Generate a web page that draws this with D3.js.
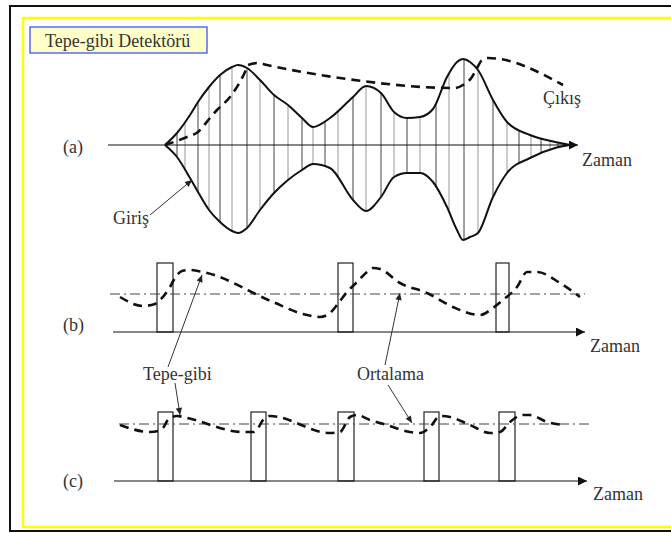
<!DOCTYPE html>
<html>
<head>
<meta charset="utf-8">
<script src="https://cdn.jsdelivr.net/npm/d3@7"></script>
<style>
html, body { margin: 0; padding: 0; background: #fff; overflow: hidden; }
svg { display: block; }
text { font-family: "Liberation Serif", "Times New Roman", serif; fill: #333; font-size: 18px; }
</style>
</head>
<body>
<svg id="chart" width="671" height="533"></svg>
<script>
// (a) input envelope, sampled in time units
var envTime  = [6.5, 7.7, 9.0, 9.8, 10.9, 12.0, 13.2, 13.8, 14.7, 16.0, 17.4, 18.8, 20.2, 21.3, 23.0, 25.3,
                26.6, 28.1, 29.4, 30.7, 32.0, 33.3, 34.7, 35.7, 36.3, 37.0, 37.8, 39.3, 40.7, 43.0, 45.5, 47.0];
var envUpper = [0, 12, 30, 43, 58, 70, 78, 80, 77, 65, 50, 40, 27, 18, 27, 48,
                59, 52, 33, 27, 28, 36, 68, 83, 86, 83, 75, 45, 23, 10, 3, 0];
var envLower = [0, 12, 33, 47, 65, 77, 86, 88, 83, 65, 48, 35, 25, 19, 23, 55,
                66, 52, 32, 28, 28, 37, 62, 85, 95, 92, 88, 52, 28, 13, 3, 0];
var carrierTime = [7.7, 8.5, 9.8, 10.9, 12.0, 13.2, 14.7, 16.0, 17.4, 18.8, 20.2, 21.3, 22.5, 23.8, 25.3, 26.6,
                   28.1, 29.4, 30.7, 32.0, 33.6, 34.9, 36.4, 37.8, 39.3, 40.7, 41.9, 43.1, 44.1, 45.0, 45.8, 46.4];
// (a) detector output
var outATime  = [6.5, 8.7, 9.8, 11.0, 11.7, 13.0, 13.5, 14.5, 14.8, 15.8, 16.7, 24.0, 35.5, 36.3, 37.2, 37.7, 38.2, 38.8, 46.3];
var outAValue = [0, 8, 13, 27, 35, 48, 55, 73, 80, 82, 80, 67, 57, 60, 68, 77, 85, 87, 60];

// (b) sparse peaks
var pulseB = [[5.7, 7.3], [23.8, 25.3], [39.6, 40.9]];
var meanB = 3.8;
var outBTime  = [2.0, 4.3, 5.5, 6.0, 7.0, 7.5, 8.2, 9.0, 10.3, 17.3, 20.3, 22.0, 23.0, 23.7, 24.7, 25.7, 26.7, 27.3, 28.0,
                 30.0, 32.7, 35.3, 38.0, 39.3, 40.3, 41.7, 42.7, 43.7, 46.0, 48.0];
var outBValue = [3.5, 2.6, 2.8, 3.2, 4.5, 5.4, 6.1, 6.2, 6.0, 3.0, 1.8, 1.5, 1.9, 2.7, 4.0, 5.0, 6.0, 6.4, 6.3,
                 4.9, 3.9, 2.5, 1.7, 2.4, 3.2, 4.5, 6.0, 6.0, 4.9, 3.5];

// (c) dense peaks
var pulseC = [[5.8, 7.3], [15.1, 16.6], [23.8, 25.4], [32.4, 33.9], [39.9, 41.5]];
var meanC = 5.7;
var outCTime  = [2.0, 5.0, 5.8, 6.3, 6.8, 7.7, 8.7, 14.3, 15.3, 15.8, 16.3, 17.0, 23.0, 24.0, 25.0, 25.7,
                 27.0, 28.7, 31.0, 32.0, 33.0, 34.0, 35.0, 37.0, 39.0, 40.0, 41.0, 42.3, 43.0, 44.7, 46.3];
var outCValue = [5.6, 4.9, 5.0, 5.3, 6.1, 6.5, 6.3, 4.9, 4.9, 5.3, 6.1, 6.5, 4.8, 4.9, 6.4, 6.6,
                 6.1, 5.6, 4.9, 4.8, 5.4, 6.5, 6.4, 5.6, 4.8, 4.9, 5.9, 6.6, 6.6, 5.9, 5.6];
var pulseTop = 6.9;

var svg = d3.select("#chart");

var x  = d3.scaleLinear().domain([0, 50]).range([100, 600]);
var yA = d3.scaleLinear().domain([-100, 100]).range([245, 45]);
var yB = d3.scaleLinear().domain([0, 10]).range([332, 232]);
var yC = d3.scaleLinear().domain([0, 10]).range([481, 381]);

var defs = svg.append("defs");
defs.append("marker").attr("id", "head").attr("viewBox", "0 0 10 10")
  .attr("refX", 10).attr("refY", 5).attr("markerUnits", "userSpaceOnUse")
  .attr("markerWidth", 8).attr("markerHeight", 7).attr("orient", "auto")
  .append("path").attr("d", "M0,0.5L10,5L0,9.5Z").attr("fill", "#222");
defs.append("marker").attr("id", "axhead").attr("viewBox", "0 0 10 10")
  .attr("refX", 10).attr("refY", 5).attr("markerUnits", "userSpaceOnUse")
  .attr("markerWidth", 11).attr("markerHeight", 9).attr("orient", "auto")
  .append("path").attr("d", "M0,0L10,5L0,10Z").attr("fill", "#111");

// frames, open on the right (cut off by the picture)
svg.append("path").attr("d", "M700,6H10V531H700")
  .attr("fill", "none").attr("stroke", "#111").attr("stroke-width", 2);
svg.append("path").attr("d", "M700,18H23V527H700")
  .attr("fill", "none").attr("stroke", "#ffff00").attr("stroke-width", 2.5);
svg.append("rect").attr("x", 30).attr("y", 27).attr("width", 177).attr("height", 26)
  .attr("fill", "#ffffc8").attr("stroke", "#3344ff").attr("stroke-width", 1.2);
svg.append("text").attr("x", 45).attr("y", 47).text("Tepe-gibi Detektörü");

var env = envTime.map(function(t, i) { return {t: t, up: envUpper[i], lo: envLower[i]}; });

// (a) carrier, clipped to the envelope
var area = d3.area().curve(d3.curveMonotoneX)
  .x(function(d) { return x(d.t); })
  .y0(function(d) { return yA(-d.lo); })
  .y1(function(d) { return yA(d.up); });
defs.append("clipPath").attr("id", "envclip").append("path").attr("d", area(env));

svg.append("g").attr("clip-path", "url(#envclip)")
  .selectAll("line").data(carrierTime).enter().append("line")
  .attr("x1", function(d) { return x(d); }).attr("x2", function(d) { return x(d); })
  .attr("y1", yA(100)).attr("y2", yA(-100))
  .attr("stroke", function(d, i) { return i % 2 ? "#999" : "#444"; })
  .attr("stroke-width", 1);

svg.append("line").attr("x1", x(0.8)).attr("x2", x(47.8)).attr("y1", yA(0)).attr("y2", yA(0))
  .attr("stroke", "#111").attr("stroke-width", 1.2).attr("marker-end", "url(#axhead)");

var upLine = d3.line().curve(d3.curveMonotoneX).x(function(d) { return x(d.t); }).y(function(d) { return yA(d.up); });
var loLine = d3.line().curve(d3.curveMonotoneX).x(function(d) { return x(d.t); }).y(function(d) { return yA(-d.lo); });
svg.append("path").attr("d", upLine(env)).attr("fill", "none").attr("stroke", "#111").attr("stroke-width", 2);
svg.append("path").attr("d", loLine(env)).attr("fill", "none").attr("stroke", "#111").attr("stroke-width", 2);

function dashed(times, values, y) {
  var line = d3.line().curve(d3.curveMonotoneX)
    .x(function(d, i) { return x(times[i]); })
    .y(function(d) { return y(d); });
  svg.append("path").attr("d", line(values)).attr("fill", "none")
    .attr("stroke", "#111").attr("stroke-width", 2.6).attr("stroke-dasharray", "9,6");
}
dashed(outATime, outAValue, yA);

// (b) and (c)
function pulses(data, y) {
  svg.append("g").selectAll("rect").data(data).enter().append("rect")
    .attr("x", function(d) { return x(d[0]); })
    .attr("width", function(d) { return x(d[1]) - x(d[0]); })
    .attr("y", y(pulseTop)).attr("height", y(0) - y(pulseTop))
    .attr("fill", "none").attr("stroke", "#222").attr("stroke-width", 1.2);
}
pulses(pulseB, yB);
pulses(pulseC, yC);

svg.append("line").attr("x1", x(1.0)).attr("x2", x(48.5)).attr("y1", yB(meanB)).attr("y2", yB(meanB))
  .attr("stroke", "#444").attr("stroke-width", 1).attr("stroke-dasharray", "10,4,2,4");
svg.append("line").attr("x1", x(1.9)).attr("x2", x(49.3)).attr("y1", yC(meanC)).attr("y2", yC(meanC))
  .attr("stroke", "#444").attr("stroke-width", 1).attr("stroke-dasharray", "10,4,2,4");

svg.append("line").attr("x1", x(1.3)).attr("x2", x(48.5)).attr("y1", yB(0)).attr("y2", yB(0))
  .attr("stroke", "#111").attr("stroke-width", 1.2).attr("marker-end", "url(#axhead)");
svg.append("line").attr("x1", x(1.4)).attr("x2", x(48.7)).attr("y1", yC(0)).attr("y2", yC(0))
  .attr("stroke", "#111").attr("stroke-width", 1.2).attr("marker-end", "url(#axhead)");

dashed(outBTime, outBValue, yB);
dashed(outCTime, outCValue, yC);

// annotation arrows
function arrow(t1, v1, y1, t2, v2, y2) {
  svg.append("line").attr("x1", x(t1)).attr("y1", y1(v1)).attr("x2", x(t2)).attr("y2", y2(v2))
    .attr("stroke", "#333").attr("stroke-width", 1).attr("marker-end", "url(#head)");
}
arrow(5.0, -70, yA, 9.2, -35, yA);
arrow(6.8, -3.5, yB, 10.2, 5.7, yB);
arrow(7.5, 9.8, yC, 8.0, 6.6, yC);
arrow(28.5, -3.3, yB, 30.0, 3.9, yB);
arrow(28.8, 9.6, yC, 31.2, 5.8, yC);

// labels
svg.append("text").attr("x", 63).attr("y", yA(0) + 8).text("(a)");
svg.append("text").attr("x", 63).attr("y", yB(0) - 1).text("(b)");
svg.append("text").attr("x", 63).attr("y", yC(0) + 6).text("(c)");
svg.append("text").attr("x", x(48.2)).attr("y", yA(0) + 21).text("Zaman");
svg.append("text").attr("x", x(49.0)).attr("y", yB(0) + 20).text("Zaman");
svg.append("text").attr("x", x(49.3)).attr("y", yC(0) + 19).text("Zaman");
svg.append("text").attr("x", x(44.3)).attr("y", yA(0) - 41).text("Çıkış");
svg.append("text").attr("x", 113).attr("y", 224).text("Giriş");
svg.append("text").attr("x", 143).attr("y", 380).text("Tepe-gibi");
svg.append("text").attr("x", 357).attr("y", 380).text("Ortalama");
</script>
</body>
</html>
